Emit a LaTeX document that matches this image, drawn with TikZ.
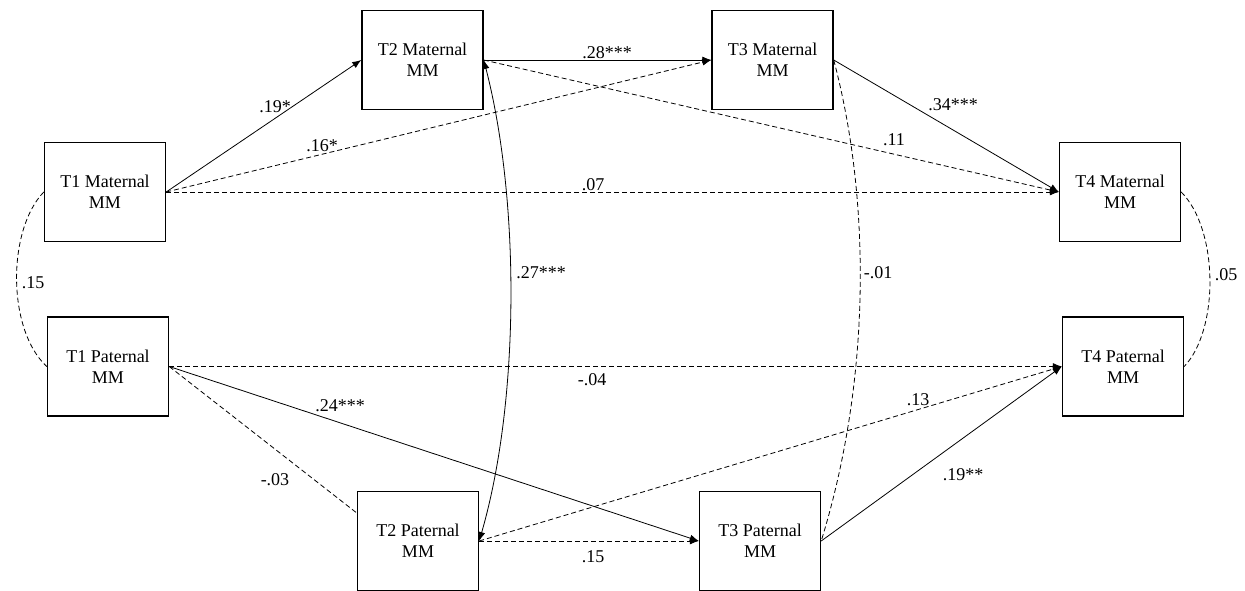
\documentclass[tikz,border=0pt]{standalone}
\usepackage{fontspec}
\setmainfont{Liberation Serif}
\usetikzlibrary{arrows.meta}
\begin{document}
\begin{tikzpicture}[x=1pt,y=-1pt,
  box/.style={draw, line width=1.4pt, minimum width=121pt, minimum height=99pt, align=center, inner sep=0pt, font=\fontsize{18}{21}\selectfont},
  lab/.style={inner sep=0pt, font=\fontsize{18}{21}\selectfont},
  conn/.style={line width=0.8pt},
  dsh/.style={conn, dash pattern=on 5pt off 3pt},
  arr/.style={-{Latex[length=9pt,width=7pt]}},
  darr/.style={{Latex[length=9pt,width=7pt]}-{Latex[length=9pt,width=7pt]}}
]
\useasboundingbox (0,0) rectangle (1245,591);

\node[box] (t1m) at (105,192) {T1 Maternal\\MM};
\node[box] (t1p) at (108,366.5) {T1 Paternal\\MM};
\node[box] (t2m) at (422.5,60) {T2 Maternal\\MM};
\node[box] (t3m) at (772.5,60) {T3 Maternal\\MM};
\node[box] (t4m) at (1120,192) {T4 Maternal\\MM};
\node[box] (t4p) at (1123,366.5) {T4 Paternal\\MM};
\node[box] (t2p) at (418,541) {T2 Paternal\\MM};
\node[box] (t3p) at (760,541) {T3 Paternal\\MM};

\draw[conn,arr] (t1m.east) -- (t2m.west);
\draw[dsh,arr] (t1m.east) -- (t3m.west);
\draw[dsh,arr] (t1m.east) -- (t4m.west);
\draw[conn,arr] (t2m.east) -- (t3m.west);
\draw[dsh,arr] (t2m.east) -- (t4m.west);
\draw[conn,arr] (t3m.east) -- (t4m.west);
\draw[conn,darr] (t2m.east) .. controls (520,200) and (520,400) .. (t2p.east);
\draw[dsh] (t3m.east) .. controls (871,200) and (871,380) .. (t3p.east);
\draw[dsh] (t1m.west) .. controls (7,230) and (7,330) .. (t1p.west);
\draw[dsh] (t4m.east) .. controls (1219,230) and (1219,330) .. (t4p.east);
\draw[dsh,arr] (t1p.east) -- (t4p.west);
\draw[conn,arr] (t1p.east) -- (t3p.west);
\draw[dsh] (t1p.east) -- ([yshift=28pt]t2p.west);
\draw[dsh,arr] (t2p.east) -- (t4p.west);
\draw[dsh,arr] (t2p.east) -- (t3p.west);
\draw[conn,arr] (t3p.east) -- (t4p.west);

\node[lab] (l1) at (275,107) {.19*};
\node[lab] (l2) at (322,146) {.16*};
\node[lab] (l3) at (593,185) {.07};
\node[lab] (l4) at (607,53) {.28***};
\node[lab] (l5) at (894,140) {.11};
\node[lab] (l6) at (953,105) {.34***};
\node[lab] (l7) at (541,273) {.27***};
\node[lab] (l8) at (878,273) {-.01};
\node[lab] (l9) at (33,283) {.15};
\node[lab] (l10) at (1226,275) {.05};
\node[lab] (l11) at (592,380) {-.04};
\node[lab] (l12) at (340,406) {.24***};
\node[lab] (l13) at (275,480) {-.03};
\node[lab] (l14) at (918,400) {.13};
\node[lab] (l15) at (963,475) {.19**};
\node[lab] (l16) at (593,557) {.15};
\end{tikzpicture}
\end{document}
